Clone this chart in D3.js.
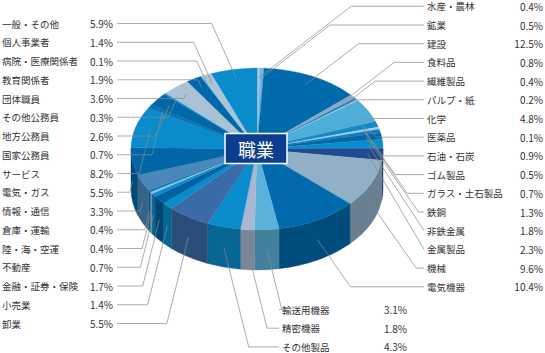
<!DOCTYPE html>
<html><head><meta charset="utf-8">
<script src="https://cdn.jsdelivr.net/npm/d3@7"></script>
<style>
html,body{margin:0;padding:0;background:#fff;}
svg{display:block;}
text{font-family:"Noto Sans CJK JP","Noto Sans",sans-serif;fill:#333;}
</style></head>
<body>
<svg id="chart" width="545" height="353"></svg>
<script>
// ---- data ----
const categories = ["水産・農林","鉱業","建設","食料品","繊維製品","パルプ・紙","化学","医薬品","石油・石炭","ゴム製品","ガラス・土石製品","鉄鋼","非鉄金属","金属製品","機械","電気機器","輸送用機器","精密機器","その他製品","卸業","小売業","金融・証券・保険","不動産","陸・海・空運","倉庫・運輸","情報・通信","電気・ガス","サービス","国家公務員","地方公務員","その他公務員","団体職員","教育関係者","病院・医療関係者","個人事業者","一般・その他"];
const values = [0.4,0.5,12.5,0.8,0.4,0.2,4.8,0.1,0.9,0.5,0.7,1.3,1.8,2.3,9.6,10.4,3.1,1.8,4.3,5.5,1.4,1.7,0.7,0.4,0.4,3.3,5.5,8.2,0.7,2.6,0.3,3.6,1.9,0.1,1.4,5.9];
const title = "職業";
// ---- style ----
const colors = ["#a9c4dc","#6fb4e0","#006aaa","#8aaac8","#0a7cc0","#b5cde0","#4caed9","#1e4b91","#0a8ccc","#b0c8dc","#0a80c2","#0068a8","#0a8ccc","#214a90","#8fb0c6","#006aac","#5ab2da","#a8b8d2","#0a8ccc","#3a6aa8","#0a8ccc","#0062a0","#0a8ccc","#8cc0dc","#0a78b8","#4a88bc","#0066a6","#0a8ccc","#0a70b0","#0068a8","#0a8ccc","#a9c2d6","#0068a8","#0a8ccc","#aac4da","#0a8ccc"];

const svg = d3.select("#chart");
const cx = 257, cy = 149, rx = 126, ry = 81, depth = 40;

const pie = d3.pie().sort(null).startAngle(0).endAngle(2*Math.PI);
const arcsData = pie(values);

const P = (a, r, dy) => [cx + rx*r*Math.sin(a), cy - ry*r*Math.cos(a) + dy];

// side walls (front half)
const sidesG = svg.append("g");
arcsData.forEach((d,i) => {
  const s = Math.max(d.startAngle, Math.PI/2), e = Math.min(d.endAngle, 3*Math.PI/2);
  if (e <= s) return;
  const p0 = P(s,1,0), p1 = P(e,1,0), p2 = P(e,1,depth), p3 = P(s,1,depth);
  const path = `M${p0}A${rx},${ry} 0 0 1 ${p1}L${p2}A${rx},${ry} 0 0 0 ${p3}Z`;
  const c = d3.color(colors[i]).darker(0.9).formatHex();
  sidesG.append("path").attr("d", path).attr("fill", c).attr("stroke", c).attr("stroke-width", 0.4);
});

// top faces
const arcGen = d3.arc().innerRadius(0).outerRadius(rx);
const topG = svg.append("g").attr("transform", `translate(${cx},${cy}) scale(1,${ry/rx})`);
topG.selectAll("path").data(arcsData).join("path")
  .attr("d", arcGen)
  .attr("fill", (d,i) => colors[i])
  .attr("stroke", (d,i) => colors[i]).attr("stroke-width", 0.4);

// labels & leader lines
const labelG = svg.append("g");
const lineG = svg.append("g");
const n = categories.length;
arcsData.forEach((d,i) => {
  const m = (d.startAngle + d.endAngle)/2;
  const front = Math.cos(m) < -0.15;
  const anchor = front ? P(m,1,depth*0.5) : P(m,0.88,0);
  let side, ly;
  if (i <= 15) { side = "right"; ly = 6.3 + 18.7*i; }
  else if (i <= 18) { side = "bottom"; ly = 309.5 + 18.7*(i-16); }
  else { side = "left"; ly = 23.5 + 18.75*(n-1-i); }
  const pct = values[i].toFixed(1) + "%";
  let pts;
  const dy = Math.abs(anchor[1] - ly);
  if (side === "right") {
    labelG.append("text").attr("x", 427).attr("y", ly).attr("dominant-baseline","central").attr("font-size", 9.5).text(categories[i]);
    labelG.append("text").attr("x", 543).attr("y", ly).attr("dominant-baseline","central").attr("text-anchor","end").attr("font-size", 10).text(pct);
    const k = ly < cy ? 1.3 : 0.7;
    const ex = Math.min(424, anchor[0] + dy*k);
    pts = [[424,ly],[ex,ly],anchor];
  } else if (side === "bottom") {
    labelG.append("text").attr("x", 282).attr("y", ly).attr("dominant-baseline","central").attr("font-size", 9.5).text(categories[i]);
    labelG.append("text").attr("x", 407).attr("y", ly).attr("dominant-baseline","central").attr("text-anchor","end").attr("font-size", 10).text(pct);
    const ex = anchor[0] + dy*0.25;
    pts = [[279,ly],[ex,ly],anchor];
  } else {
    labelG.append("text").attr("x", 2).attr("y", ly).attr("dominant-baseline","central").attr("font-size", 9.5).text(categories[i]);
    labelG.append("text").attr("x", 113).attr("y", ly).attr("dominant-baseline","central").attr("text-anchor","end").attr("font-size", 10).text(pct);
    const k = ly < cy ? 0.45 : 0.25;
    const ex = Math.max(117, anchor[0] - dy*k);
    pts = [[117,ly],[ex,ly],anchor];
  }
  lineG.append("path").attr("d", d3.line()(pts)).attr("fill","none").attr("stroke","#8a8a8a").attr("stroke-width",0.7);
});

// title box
const tb = svg.append("g");
tb.append("rect").attr("x", 225).attr("y", 133.5).attr("width", 62).attr("height", 30)
  .attr("fill", "#0d3d8e").attr("stroke", "#fff").attr("stroke-width", 1.5);
tb.append("text").attr("x", 256).attr("y", 149).attr("text-anchor","middle").attr("dominant-baseline","central")
  .attr("font-size", 18).style("fill","#fff").text(title);
</script>
</body></html>
